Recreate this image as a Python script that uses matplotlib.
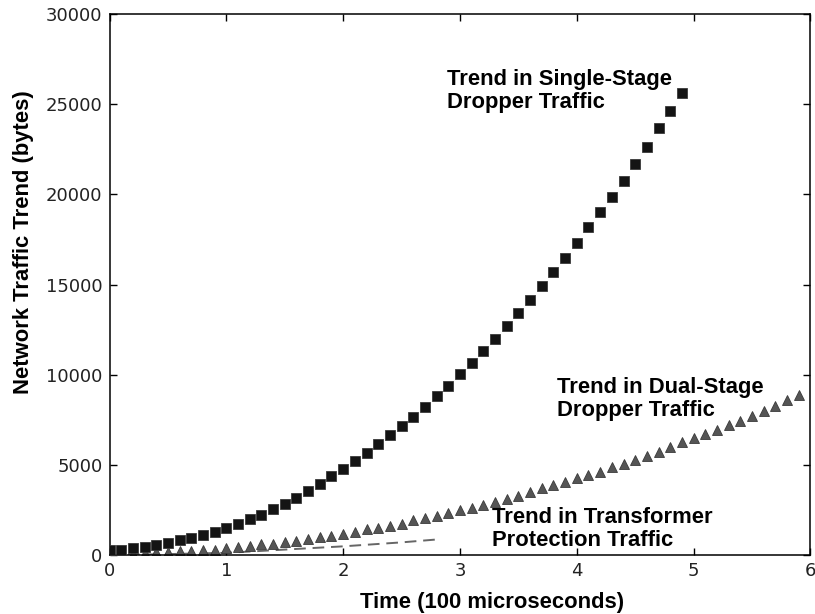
import matplotlib
matplotlib.use("Agg")
import matplotlib.pyplot as plt
import numpy as np

# Single-stage dropper traffic (squares), x = 0.0 .. 4.9
single_x = [round(0.1 * i, 1) for i in range(50)]
single_y = [290, 290, 370, 460, 555, 680, 815, 960, 1110, 1290,
            1500, 1700, 1980, 2220, 2550, 2850, 3180, 3560, 3950, 4365,
            4770, 5214, 5657, 6140, 6655, 7138, 7637, 8208, 8818, 9390,
            10022, 10650, 11314, 11980, 12700, 13405, 14160, 14903, 15680, 16472,
            17288, 18175, 19007, 19856, 20743, 21686, 22630, 23682, 24626, 25624]

# Dual-stage dropper traffic (triangles), x = 0.0 .. 5.9
dual_x = [round(0.1 * i, 1) for i in range(60)]
dual_y = [20, 50, 80, 110, 150, 183, 205, 240, 277, 294,
          370, 460, 516, 590, 627, 720, 790, 887, 980, 1036,
          1165, 1294, 1442, 1480, 1590, 1700, 1925, 2035, 2180, 2330,
          2496, 2590, 2773, 2923, 3106, 3280, 3478, 3700, 3882, 4066,
          4270, 4437, 4587, 4864, 5047, 5286, 5474, 5729, 5973, 6251,
          6473, 6711, 6950, 7210, 7449, 7726, 8003, 8280, 8613, 8874]

# Transformer protection traffic (dashed line)
trans_x = [0.0, 0.5, 1.0, 1.5, 2.0, 2.5, 2.8]
trans_y = [0, 50, 120, 300, 480, 700, 860]

xticks = [0, 1, 2, 3, 4, 5, 6]
yticks = [0, 5000, 10000, 15000, 20000, 25000, 30000]

fig = plt.figure(figsize=(8.15, 6.14), dpi=100)
ax = fig.add_axes([0.1344, 0.0961, 0.86, 0.881])

ax.plot(trans_x, trans_y, linestyle='--', dashes=(6, 3.5), color='#666666', lw=1.4, zorder=1)
ax.plot(dual_x, dual_y, linestyle='none', marker='^', ms=7.8, color='#555555',
        markeredgecolor='#3a3a3a', markeredgewidth=0.6, zorder=2)
ax.plot(single_x, single_y, linestyle='none', marker='s', ms=7.4, color='#141414',
        markeredgecolor='#3a3a3a', markeredgewidth=0.6, zorder=3)

ax.set_xlim(0, 6)
ax.set_ylim(0, 30000)
ax.set_xticks(xticks)
ax.set_yticks(yticks)
ax.tick_params(direction='in', top=True, right=True, length=5, width=1,
               labelsize=13, labelcolor='#222222', pad=5)
for s in ax.spines.values():
    s.set_linewidth(1.1)

lab_font = dict(family='Liberation Sans', fontweight='bold', fontsize=15.8)
ax.set_xlabel('Time (100 microseconds)', labelpad=9, x=0.546, **lab_font)
ax.set_ylabel('Network Traffic Trend (bytes)', **lab_font)
ax.yaxis.set_label_coords(-0.108, 0.579)

ann_font = dict(family='Liberation Sans', fontweight='bold', fontsize=15.8, linespacing=1.13)
ax.text(2.89, 25730, 'Trend in Single-Stage\nDropper Traffic', ha='left', va='center', **ann_font)
ax.text(3.83, 8650, 'Trend in Dual-Stage\nDropper Traffic', ha='left', va='center', **ann_font)
ax.text(3.27, 1440, 'Trend in Transformer\nProtection Traffic', ha='left', va='center', **ann_font)

fig.savefig('out.png', dpi=100)
